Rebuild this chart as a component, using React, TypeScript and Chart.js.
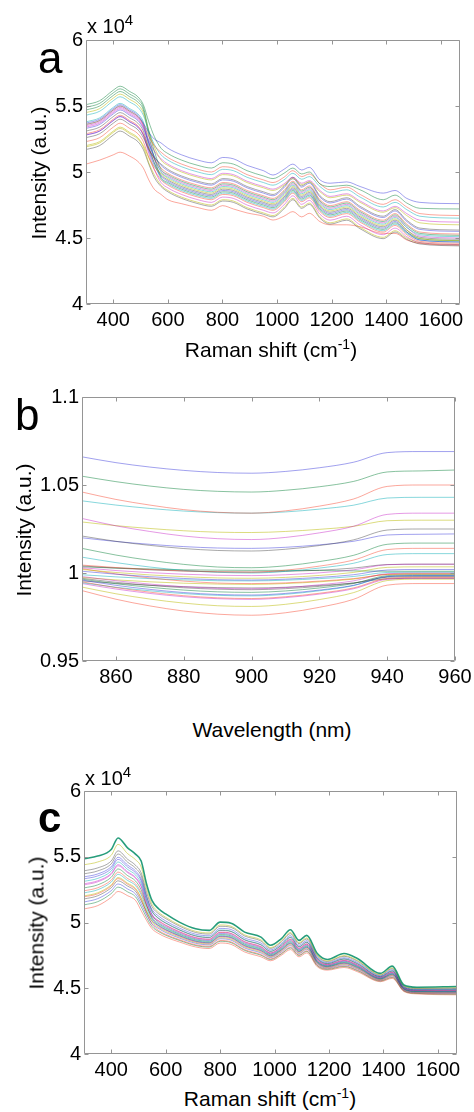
import React, { useEffect, useRef } from 'react';
import { Chart, registerables } from 'chart.js';

Chart.register(...registerables);

const FONT = "'Liberation Sans', Arial, Helvetica, sans-serif";

// ---------- Panels a & c : Raman spectra (intensity in units of 10^4) ----------
const RAMAN_SHIFT = [300, 350, 400, 425, 460, 490, 510, 530, 550, 575, 600, 650, 710, 760, 800, 840, 890, 950, 985, 1025, 1058, 1090, 1118, 1157, 1194, 1255, 1304, 1389, 1432, 1475, 1523, 1670];
const RAMAN_TICKS = [400, 600, 800, 1000, 1200, 1400, 1600];
const INTENSITY_TICKS = [4, 4.5, 5, 5.5, 6];

const A01 = [5.37, 5.40, 5.48, 5.51, 5.47, 5.43, 5.37, 5.30, 5.25, 5.22, 5.18, 5.13, 5.09, 5.07, 5.11, 5.10, 5.05, 5.01, 4.977, 5.02, 5.06, 5.015, 5.035, 4.94, 4.915, 4.925, 4.89, 4.84, 4.86, 4.80, 4.77, 4.76];
const A02 = [5.51, 5.54, 5.62, 5.65, 5.61, 5.57, 5.51, 5.38, 5.27, 5.18, 5.14, 5.09, 5.05, 5.03, 5.07, 5.06, 5.01, 4.97, 4.95, 4.99, 5.03, 4.985, 5.00, 4.91, 4.89, 4.90, 4.865, 4.79, 4.825, 4.765, 4.725, 4.72];
const A03 = [5.36, 5.39, 5.47, 5.50, 5.46, 5.42, 5.36, 5.27, 5.20, 5.15, 5.11, 5.06, 5.02, 5.00, 5.04, 5.03, 4.98, 4.94, 4.92, 4.96, 5.01, 4.965, 4.985, 4.91, 4.865, 4.885, 4.83, 4.755, 4.79, 4.735, 4.685, 4.67];
const A04 = [5.43, 5.46, 5.54, 5.57, 5.53, 5.49, 5.43, 5.31, 5.21, 5.13, 5.09, 5.04, 5.00, 4.98, 5.02, 5.01, 4.96, 4.92, 4.90, 4.94, 4.99, 4.945, 4.965, 4.89, 4.845, 4.865, 4.81, 4.735, 4.77, 4.715, 4.665, 4.65];
const A05 = [5.34, 5.37, 5.45, 5.48, 5.44, 5.40, 5.34, 5.24, 5.16, 5.10, 5.06, 5.01, 4.97, 4.95, 4.99, 4.98, 4.93, 4.89, 4.87, 4.91, 4.96, 4.915, 4.935, 4.86, 4.815, 4.835, 4.78, 4.705, 4.74, 4.685, 4.635, 4.62];
const A06 = [5.45, 5.48, 5.56, 5.59, 5.55, 5.51, 5.45, 5.31, 5.19, 5.09, 5.05, 5.00, 4.96, 4.94, 4.98, 4.97, 4.92, 4.88, 4.86, 4.90, 4.95, 4.905, 4.925, 4.85, 4.805, 4.825, 4.77, 4.695, 4.73, 4.67, 4.615, 4.60];
const A07 = [5.26, 5.29, 5.37, 5.40, 5.36, 5.32, 5.26, 5.17, 5.11, 5.06, 5.02, 4.97, 4.93, 4.91, 4.95, 4.94, 4.89, 4.85, 4.83, 4.89, 4.96, 4.895, 4.925, 4.82, 4.775, 4.805, 4.74, 4.665, 4.715, 4.635, 4.575, 4.56];
const A08 = [5.33, 5.36, 5.44, 5.47, 5.43, 5.39, 5.33, 5.22, 5.12, 5.05, 5.01, 4.96, 4.92, 4.90, 4.94, 4.93, 4.88, 4.84, 4.82, 4.88, 4.95, 4.885, 4.915, 4.81, 4.765, 4.795, 4.73, 4.655, 4.705, 4.625, 4.565, 4.55];
const A09 = [5.49, 5.52, 5.60, 5.63, 5.59, 5.55, 5.49, 5.31, 5.16, 5.02, 4.98, 4.93, 4.89, 4.87, 4.91, 4.90, 4.85, 4.81, 4.79, 4.85, 4.92, 4.855, 4.885, 4.78, 4.735, 4.765, 4.70, 4.625, 4.675, 4.595, 4.535, 4.52];
const A10 = [5.29, 5.32, 5.40, 5.43, 5.39, 5.35, 5.29, 5.18, 5.10, 5.03, 4.99, 4.94, 4.90, 4.88, 4.92, 4.91, 4.86, 4.82, 4.80, 4.86, 4.93, 4.865, 4.895, 4.79, 4.745, 4.775, 4.71, 4.635, 4.685, 4.605, 4.545, 4.53];
const A11 = [5.38, 5.41, 5.49, 5.52, 5.48, 5.44, 5.38, 5.23, 5.11, 5.00, 4.96, 4.91, 4.87, 4.85, 4.89, 4.88, 4.83, 4.79, 4.77, 4.83, 4.90, 4.835, 4.865, 4.76, 4.715, 4.745, 4.68, 4.605, 4.655, 4.58, 4.525, 4.51];
const A12 = [5.35, 5.38, 5.46, 5.49, 5.45, 5.41, 5.35, 5.22, 5.10, 5.01, 4.97, 4.92, 4.88, 4.86, 4.90, 4.89, 4.84, 4.80, 4.78, 4.84, 4.91, 4.845, 4.875, 4.77, 4.725, 4.755, 4.69, 4.615, 4.665, 4.58, 4.515, 4.50];
const A13 = [5.20, 5.23, 5.31, 5.34, 5.30, 5.26, 5.20, 5.11, 5.04, 4.99, 4.95, 4.90, 4.86, 4.84, 4.88, 4.87, 4.82, 4.78, 4.76, 4.82, 4.89, 4.825, 4.855, 4.75, 4.705, 4.735, 4.67, 4.595, 4.645, 4.56, 4.495, 4.48];
const A14 = [5.31, 5.34, 5.42, 5.45, 5.41, 5.37, 5.31, 5.18, 5.07, 4.98, 4.94, 4.89, 4.85, 4.83, 4.87, 4.86, 4.81, 4.77, 4.75, 4.81, 4.88, 4.815, 4.845, 4.74, 4.695, 4.725, 4.66, 4.585, 4.635, 4.56, 4.505, 4.49];
const A15 = [5.28, 5.31, 5.39, 5.42, 5.38, 5.34, 5.28, 5.16, 5.05, 4.97, 4.93, 4.88, 4.84, 4.82, 4.86, 4.85, 4.80, 4.76, 4.74, 4.80, 4.87, 4.805, 4.835, 4.73, 4.685, 4.715, 4.65, 4.575, 4.625, 4.545, 4.485, 4.47];
const A16 = [5.47, 5.50, 5.58, 5.61, 5.57, 5.53, 5.47, 5.28, 5.11, 4.96, 4.92, 4.87, 4.83, 4.81, 4.85, 4.84, 4.79, 4.75, 4.73, 4.79, 4.86, 4.795, 4.825, 4.72, 4.675, 4.705, 4.64, 4.565, 4.615, 4.545, 4.495, 4.48];
const A17 = [5.23, 5.26, 5.34, 5.37, 5.33, 5.29, 5.23, 5.11, 5.02, 4.94, 4.90, 4.85, 4.81, 4.79, 4.83, 4.82, 4.77, 4.73, 4.71, 4.77, 4.84, 4.775, 4.805, 4.70, 4.655, 4.685, 4.62, 4.545, 4.595, 4.525, 4.475, 4.46];
const A18 = [5.36, 5.39, 5.47, 5.50, 5.46, 5.42, 5.36, 5.20, 5.07, 4.95, 4.91, 4.86, 4.82, 4.80, 4.84, 4.83, 4.78, 4.74, 4.72, 4.78, 4.85, 4.785, 4.815, 4.71, 4.665, 4.695, 4.63, 4.555, 4.605, 4.535, 4.485, 4.47];
const A19 = [5.28, 5.31, 5.39, 5.42, 5.38, 5.34, 5.28, 5.14, 5.02, 4.92, 4.88, 4.83, 4.79, 4.77, 4.81, 4.80, 4.75, 4.71, 4.69, 4.75, 4.82, 4.755, 4.785, 4.68, 4.635, 4.665, 4.60, 4.525, 4.575, 4.51, 4.465, 4.45];
const A20 = [5.19, 5.22, 5.30, 5.33, 5.29, 5.25, 5.19, 5.07, 4.98, 4.90, 4.86, 4.81, 4.77, 4.75, 4.79, 4.78, 4.73, 4.69, 4.67, 4.73, 4.80, 4.735, 4.765, 4.66, 4.615, 4.645, 4.58, 4.505, 4.555, 4.50, 4.465, 4.45];
const A21 = [5.17, 5.20, 5.28, 5.31, 5.27, 5.23, 5.17, 5.06, 4.96, 4.89, 4.85, 4.80, 4.76, 4.74, 4.78, 4.77, 4.72, 4.68, 4.66, 4.72, 4.79, 4.725, 4.755, 4.65, 4.605, 4.635, 4.57, 4.495, 4.545, 4.49, 4.455, 4.44];
const A22 = [5.06, 5.09, 5.13, 5.15, 5.12, 5.08, 5.03, 4.94, 4.87, 4.83, 4.79, 4.76, 4.73, 4.71, 4.745, 4.72, 4.69, 4.665, 4.636, 4.665, 4.70, 4.66, 4.687, 4.624, 4.60, 4.60, 4.585, 4.535, 4.535, 4.485, 4.46, 4.445];
const A_SERIES = [A01, A02, A03, A04, A05, A06, A07, A08, A09, A10, A11, A12, A13, A14, A15, A16, A17, A18, A19, A20, A21, A22];
const A_COLORS = ['b', 'g', 'r', 'c', 'm', 'y', 'k', 'b', 'g', 'r', 'c', 'm', 'y', 'k', 'b', 'g', 'r', 'c', 'm', 'y', 'k', 'r'];

const C01 = [5.485, 5.505, 5.555, 5.643, 5.568, 5.518, 5.467, 5.291, 5.166, 5.103, 5.065, 5.003, 4.952, 4.940, 5.003, 4.995, 4.927, 4.889, 4.827, 4.877, 4.945, 4.864, 4.902, 4.764, 4.719, 4.764, 4.726, 4.613, 4.668, 4.525, 4.508, 4.513];
const C02 = [5.439, 5.460, 5.511, 5.594, 5.524, 5.476, 5.422, 5.256, 5.138, 5.077, 5.040, 4.982, 4.933, 4.921, 4.981, 4.972, 4.906, 4.868, 4.810, 4.859, 4.924, 4.847, 4.883, 4.750, 4.708, 4.749, 4.712, 4.604, 4.655, 4.518, 4.501, 4.504];
const C03 = [5.393, 5.415, 5.468, 5.545, 5.481, 5.434, 5.377, 5.228, 5.120, 5.065, 5.030, 4.973, 4.924, 4.912, 4.971, 4.963, 4.897, 4.859, 4.803, 4.852, 4.915, 4.839, 4.875, 4.744, 4.703, 4.743, 4.706, 4.600, 4.649, 4.515, 4.498, 4.500];
const C04 = [5.347, 5.369, 5.424, 5.496, 5.437, 5.391, 5.331, 5.197, 5.098, 5.047, 5.012, 4.958, 4.911, 4.899, 4.955, 4.947, 4.882, 4.844, 4.792, 4.839, 4.900, 4.827, 4.862, 4.734, 4.695, 4.732, 4.696, 4.594, 4.640, 4.510, 4.493, 4.494];
const C05 = [5.370, 5.392, 5.446, 5.521, 5.459, 5.412, 5.354, 5.199, 5.087, 5.028, 4.995, 4.943, 4.897, 4.885, 4.939, 4.931, 4.867, 4.829, 4.780, 4.827, 4.885, 4.814, 4.849, 4.724, 4.687, 4.722, 4.686, 4.588, 4.631, 4.505, 4.488, 4.488];
const C06 = [5.313, 5.335, 5.391, 5.460, 5.404, 5.360, 5.297, 5.173, 5.080, 5.032, 4.998, 4.946, 4.900, 4.888, 4.943, 4.934, 4.870, 4.832, 4.782, 4.829, 4.888, 4.817, 4.851, 4.726, 4.688, 4.724, 4.688, 4.589, 4.633, 4.506, 4.489, 4.489];
const C07 = [5.286, 5.309, 5.366, 5.431, 5.379, 5.335, 5.271, 5.151, 5.060, 5.013, 4.981, 4.931, 4.886, 4.874, 4.927, 4.918, 4.855, 4.817, 4.770, 4.817, 4.873, 4.804, 4.838, 4.716, 4.680, 4.713, 4.678, 4.583, 4.623, 4.501, 4.484, 4.483];
const C08 = [5.332, 5.354, 5.409, 5.480, 5.422, 5.377, 5.316, 5.167, 5.059, 5.000, 4.968, 4.920, 4.876, 4.864, 4.916, 4.906, 4.844, 4.807, 4.762, 4.808, 4.862, 4.795, 4.829, 4.708, 4.674, 4.706, 4.671, 4.578, 4.617, 4.498, 4.480, 4.478];
const C09 = [5.263, 5.286, 5.344, 5.407, 5.357, 5.314, 5.248, 5.129, 5.039, 4.990, 4.959, 4.912, 4.869, 4.857, 4.908, 4.898, 4.836, 4.799, 4.756, 4.801, 4.854, 4.789, 4.822, 4.703, 4.670, 4.700, 4.666, 4.575, 4.612, 4.495, 4.477, 4.475];
const C10 = [5.241, 5.264, 5.322, 5.383, 5.335, 5.293, 5.226, 5.127, 5.049, 5.009, 4.977, 4.928, 4.883, 4.871, 4.924, 4.915, 4.852, 4.814, 4.768, 4.814, 4.870, 4.802, 4.836, 4.714, 4.679, 4.711, 4.676, 4.582, 4.622, 4.500, 4.483, 4.482];
const C11 = [5.225, 5.249, 5.307, 5.366, 5.320, 5.279, 5.211, 5.106, 5.025, 4.981, 4.951, 4.905, 4.862, 4.850, 4.900, 4.890, 4.829, 4.792, 4.750, 4.795, 4.847, 4.783, 4.816, 4.698, 4.666, 4.695, 4.661, 4.572, 4.608, 4.493, 4.475, 4.472];
const C12 = [5.294, 5.317, 5.373, 5.440, 5.386, 5.342, 5.279, 5.135, 5.031, 4.971, 4.942, 4.897, 4.855, 4.843, 4.892, 4.882, 4.821, 4.784, 4.744, 4.789, 4.839, 4.777, 4.809, 4.693, 4.662, 4.690, 4.656, 4.569, 4.603, 4.490, 4.472, 4.469];
const C13 = [5.202, 5.226, 5.286, 5.342, 5.299, 5.258, 5.188, 5.086, 5.006, 4.962, 4.933, 4.890, 4.849, 4.837, 4.884, 4.874, 4.814, 4.777, 4.739, 4.783, 4.832, 4.770, 4.802, 4.688, 4.658, 4.685, 4.651, 4.566, 4.598, 4.488, 4.470, 4.466];
const C14 = [5.179, 5.203, 5.264, 5.317, 5.277, 5.236, 5.165, 5.081, 5.012, 4.975, 4.945, 4.900, 4.858, 4.846, 4.895, 4.886, 4.824, 4.787, 4.747, 4.791, 4.842, 4.779, 4.812, 4.695, 4.664, 4.692, 4.658, 4.570, 4.605, 4.491, 4.473, 4.470];
const C15 = [5.156, 5.181, 5.242, 5.293, 5.255, 5.215, 5.143, 5.059, 4.991, 4.953, 4.924, 4.882, 4.842, 4.830, 4.876, 4.866, 4.806, 4.769, 4.733, 4.776, 4.824, 4.764, 4.796, 4.683, 4.654, 4.679, 4.646, 4.563, 4.594, 4.485, 4.467, 4.463];
const C16 = [5.195, 5.218, 5.278, 5.334, 5.291, 5.250, 5.180, 5.070, 4.986, 4.938, 4.910, 4.870, 4.831, 4.819, 4.863, 4.853, 4.794, 4.757, 4.723, 4.766, 4.812, 4.754, 4.785, 4.675, 4.648, 4.671, 4.638, 4.558, 4.586, 4.481, 4.463, 4.458];
const C17 = [5.134, 5.158, 5.220, 5.269, 5.233, 5.194, 5.120, 5.037, 4.969, 4.930, 4.903, 4.864, 4.825, 4.813, 4.857, 4.847, 4.788, 4.751, 4.718, 4.761, 4.806, 4.749, 4.780, 4.671, 4.644, 4.666, 4.634, 4.555, 4.582, 4.479, 4.461, 4.455];
const C18 = [5.103, 5.128, 5.191, 5.236, 5.204, 5.166, 5.090, 5.015, 4.952, 4.915, 4.889, 4.852, 4.814, 4.802, 4.844, 4.834, 4.776, 4.739, 4.709, 4.751, 4.794, 4.739, 4.769, 4.663, 4.638, 4.658, 4.626, 4.550, 4.575, 4.475, 4.457, 4.450];
const C_SERIES = [C01, C02, C03, C04, C05, C06, C07, C08, C09, C10, C11, C12, C13, C14, C15, C16, C17, C18];
const C_COLORS = ['G', 'y', 'k', 'b', 'k', 'c', 'm', 'b', 'g', 'r', 'c', 'm', 'y', 'k', 'b', 'r', 'g', 'r'];

// ---------- Panel b : normalised NIR ratio ----------
const WAVELENGTH = [850, 860, 870, 880, 890, 900, 910, 920, 930, 940, 950, 960];
const WAVELENGTH_TICKS = [860, 880, 900, 920, 940, 960];
const RATIO_TICKS = [0.95, 1, 1.05, 1.1];

const B01 = [1.066, 1.0627, 1.0602, 1.0583, 1.0571, 1.0567, 1.0577, 1.0598, 1.0629, 1.0684, 1.069, 1.069];
const B02 = [1.055, 1.0519, 1.0494, 1.0475, 1.0464, 1.046, 1.047, 1.049, 1.052, 1.0574, 1.058, 1.0585];
const B03 = [1.046, 1.0418, 1.0386, 1.036, 1.0345, 1.034, 1.0353, 1.038, 1.042, 1.0492, 1.05, 1.05];
const B04 = [1.041, 1.0386, 1.0367, 1.0352, 1.0343, 1.034, 1.0347, 1.0363, 1.0385, 1.0426, 1.043, 1.043];
const B05 = [1.031, 1.0268, 1.0236, 1.021, 1.0195, 1.019, 1.0202, 1.0228, 1.0265, 1.0333, 1.034, 1.034];
const B06 = [1.029, 1.0269, 1.0253, 1.024, 1.0232, 1.023, 1.0236, 1.0248, 1.0265, 1.0297, 1.03, 1.03];
const B07 = [1.021, 1.018, 1.0157, 1.0139, 1.0128, 1.0125, 1.0135, 1.0156, 1.0188, 1.0244, 1.025, 1.025];
const B08 = [1.02, 1.0179, 1.0163, 1.015, 1.0142, 1.014, 1.0146, 1.016, 1.018, 1.0216, 1.022, 1.0222];
const B09 = [1.014, 1.0102, 1.0072, 1.0049, 1.0034, 1.003, 1.0041, 1.0065, 1.01, 1.0163, 1.017, 1.017];
const B10 = [1.0045, 1.0031, 1.002, 1.0012, 1.0007, 1.0005, 1.0016, 1.0039, 1.0073, 1.0133, 1.014, 1.014];
const B11 = [1.009, 1.0059, 1.0034, 1.0015, 1.0004, 1.0, 1.0009, 1.0028, 1.0055, 1.0105, 1.011, 1.011];
const B12 = [1.003, 1.0014, 1.0002, 0.9993, 0.9987, 0.9985, 0.999, 1.0001, 1.0018, 1.0047, 1.005, 1.005];
const B13 = [1.002, 1.0003, 0.9989, 0.9979, 0.9972, 0.997, 0.9975, 0.9986, 1.0003, 1.0032, 1.0035, 1.0035];
const B14 = [1.004, 1.0028, 1.0018, 1.0011, 1.0006, 1.0005, 1.0009, 1.0016, 1.0028, 1.0048, 1.005, 1.005];
const B15 = [1.001, 0.9993, 0.9979, 0.9969, 0.9962, 0.996, 0.9965, 0.9975, 0.999, 1.0017, 1.002, 1.002];
const B16 = [1.0035, 1.0028, 1.0023, 1.0018, 1.0016, 1.0015, 1.0015, 1.0014, 1.0012, 1.001, 1.001, 1.001];
const B17 = [1.0025, 0.9995, 0.9972, 0.9954, 0.9943, 0.994, 0.9944, 0.9954, 0.9968, 0.9992, 0.9995, 0.9995];
const B18 = [0.999, 0.9978, 0.9968, 0.9961, 0.9956, 0.9955, 0.9959, 0.9968, 0.998, 1.0003, 1.0005, 1.0005];
const B19 = [0.998, 0.9956, 0.9937, 0.9922, 0.9913, 0.991, 0.9917, 0.9933, 0.9955, 0.9996, 1.0, 1.0];
const B20 = [0.9975, 0.9961, 0.995, 0.9942, 0.9937, 0.9935, 0.994, 0.995, 0.9965, 0.9992, 0.9995, 0.9995];
const B21 = [0.997, 0.9947, 0.993, 0.9916, 0.9908, 0.9905, 0.9911, 0.9924, 0.9943, 0.9976, 0.998, 0.998];
const B22 = [0.996, 0.993, 0.9907, 0.9889, 0.9878, 0.9875, 0.9884, 0.9903, 0.993, 0.998, 0.9985, 0.9985];
const B23 = [0.9965, 0.9939, 0.9919, 0.9903, 0.9893, 0.989, 0.9898, 0.9915, 0.994, 0.9985, 0.999, 0.999];
const B24 = [0.995, 0.9917, 0.9891, 0.9871, 0.9859, 0.9855, 0.9865, 0.9885, 0.9915, 0.9969, 0.9975, 0.9975];
const B25 = [0.9945, 0.9919, 0.9899, 0.9883, 0.9873, 0.987, 0.9879, 0.9899, 0.9928, 0.9979, 0.9985, 0.9985];
const B26 = [0.994, 0.9909, 0.9884, 0.9865, 0.9854, 0.985, 0.986, 0.988, 0.991, 0.9964, 0.997, 0.997];
const B27 = [0.992, 0.9882, 0.9852, 0.9829, 0.9814, 0.981, 0.9822, 0.9849, 0.9888, 0.9957, 0.9965, 0.9965];
const B28 = [0.9955, 0.9941, 0.993, 0.9922, 0.9917, 0.9915, 0.9919, 0.9929, 0.9943, 0.9967, 0.997, 0.997];
const B29 = [0.99, 0.9851, 0.9813, 0.9784, 0.9766, 0.976, 0.9774, 0.9805, 0.985, 0.9931, 0.994, 0.994];
const B_SERIES = [B01, B02, B03, B04, B05, B06, B07, B08, B09, B10, B11, B12, B13, B14, B15, B16, B17, B18, B19, B20, B21, B22, B23, B24, B25, B26, B27, B28, B29];
const B_COLORS = ['b', 'g', 'r', 'c', 'm', 'y', 'k', 'b', 'g', 'r', 'c', 'm', 'y', 'k', 'b', 'g', 'r', 'c', 'm', 'y', 'k', 'b', 'g', 'r', 'c', 'm', 'y', 'k', 'r'];

// MATLAB default line colours; thin lines look pale in the reference
const PALETTE: Record<string, string> = {
  b: 'rgba(30,30,215,0.42)',
  g: 'rgba(0,125,50,0.47)',
  r: 'rgba(245,45,20,0.42)',
  c: 'rgba(0,170,180,0.47)',
  m: 'rgba(190,0,190,0.4)',
  y: 'rgba(185,185,0,0.5)',
  k: 'rgba(50,50,50,0.42)',
  G: 'rgba(0,140,100,0.85)',
};

const CANVAS_W = 500;

const boxPlugin = {
  id: 'matlabBox',
  afterDraw(chart: any) {
    const { ctx, chartArea } = chart;
    const l = Math.round(chartArea.left) + 0.5;
    const r = Math.round(chartArea.right) - 0.5;
    const t = Math.round(chartArea.top) + 0.5;
    const b = Math.round(chartArea.bottom) - 0.5;
    const xs = chart.scales.x;
    const ys = chart.scales.y;
    const len = 4;
    ctx.save();
    ctx.strokeStyle = '#959595';
    ctx.lineWidth = 1;
    ctx.beginPath();
    ctx.rect(l, t, r - l, b - t);
    xs.ticks.forEach((tk: any) => {
      const px = Math.round(xs.getPixelForValue(tk.value)) + 0.5;
      ctx.moveTo(px, b);
      ctx.lineTo(px, b - len);
      ctx.moveTo(px, t);
      ctx.lineTo(px, t + len);
    });
    ys.ticks.forEach((tk: any) => {
      const py = Math.round(ys.getPixelForValue(tk.value)) + 0.5;
      ctx.moveTo(l, py);
      ctx.lineTo(l + len, py);
      ctx.moveTo(r, py);
      ctx.lineTo(r - len, py);
    });
    ctx.stroke();
    ctx.restore();
  },
};

const fmt = (v: any) => String(Math.round(Number(v) * 100) / 100);

type Plot = { left: number; top: number; right: number; bottom: number };

function Panel(props: {
  top: number;
  height: number;
  plot: Plot;
  xs: number[];
  series: number[][];
  colors: string[];
  xMin: number;
  xMax: number;
  yMin: number;
  yMax: number;
  xTicks: number[];
  yTicks: number[];
}) {
  const ref = useRef<HTMLCanvasElement | null>(null);
  const { top, height, plot, xs, series, colors, xMin, xMax, yMin, yMax, xTicks, yTicks } = props;
  useEffect(() => {
    if (!ref.current) return;
    const tickFont = { family: FONT, size: 20 };
    const chart = new Chart(ref.current, {
      type: 'line',
      data: {
        datasets: series.map((ys, i) => ({
          data: xs.map((x, j) => ({ x, y: ys[j] })),
          borderColor: PALETTE[colors[i]],
          borderWidth: colors[i] === 'G' ? 1.6 : 1,
          pointRadius: 0,
          fill: false,
          cubicInterpolationMode: 'monotone' as const,
        })),
      },
      options: {
        animation: false,
        responsive: false,
        maintainAspectRatio: false,
        events: [],
        layout: { padding: { left: 0, top: plot.top - top, right: CANVAS_W - plot.right, bottom: 0 } },
        plugins: { legend: { display: false }, tooltip: { enabled: false } },
        scales: {
          x: {
            type: 'linear',
            min: xMin,
            max: xMax,
            grid: { display: false, drawTicks: false },
            border: { display: false },
            ticks: { padding: 4, font: tickFont, color: '#000', maxRotation: 0, autoSkip: false, callback: fmt },
            afterBuildTicks: (s: any) => {
              s.ticks = xTicks.map((v) => ({ value: v }));
            },
            afterFit: (s: any) => {
              s.height = top + height - plot.bottom;
            },
          },
          y: {
            type: 'linear',
            min: yMin,
            max: yMax,
            grid: { display: false, drawTicks: false },
            border: { display: false },
            ticks: { padding: 3, font: tickFont, color: '#000', autoSkip: false, callback: fmt },
            afterBuildTicks: (s: any) => {
              s.ticks = yTicks.map((v) => ({ value: v }));
            },
            afterFit: (s: any) => {
              s.width = plot.left;
            },
          },
        },
      } as any,
      plugins: [boxPlugin],
    });
    return () => chart.destroy();
  }, []);
  return (
    <canvas
      ref={ref}
      width={CANVAS_W}
      height={height}
      style={{ position: 'absolute', left: 0, top, width: CANVAS_W, height }}
    />
  );
}

// text placed by its baseline
function Txt(props: { x: number; base: number; size: number; bold?: boolean; center?: boolean; children: any }) {
  const { x, base, size, bold, center, children } = props;
  return (
    <div
      style={{
        position: 'absolute',
        left: x,
        top: base - 0.8465 * size,
        fontSize: size,
        lineHeight: 1,
        fontWeight: bold ? 'bold' : 'normal',
        whiteSpace: 'nowrap',
        transform: center ? 'translateX(-50%)' : undefined,
        color: '#000',
      }}
    >
      {children}
    </div>
  );
}

function YTitle(props: { cx: number; cy: number }) {
  return (
    <div
      style={{
        position: 'absolute',
        left: props.cx,
        top: props.cy,
        fontSize: 21,
        lineHeight: 1,
        whiteSpace: 'nowrap',
        transform: 'translate(-50%,-50%) rotate(-90deg)',
        color: '#000',
      }}
    >
      Intensity (a.u.)
    </div>
  );
}

const Sup = (props: { children: any; size: number; lift: number }) => (
  <span style={{ fontSize: props.size, position: 'relative', top: -props.lift }}>{props.children}</span>
);

export default function App() {
  const plotA = { left: 86, top: 40, right: 460, bottom: 304 };
  const plotB = { left: 82, top: 397, right: 455, bottom: 661 };
  const plotC = { left: 84, top: 791, right: 457, bottom: 1054 };
  return (
    <div
      style={{
        position: 'absolute',
        left: 0,
        top: 0,
        width: 474,
        height: 1112,
        overflow: 'hidden',
        background: '#fff',
        fontFamily: FONT,
      }}
    >
      <Panel top={0} height={345} plot={plotA} xs={RAMAN_SHIFT} series={A_SERIES} colors={A_COLORS}
        xMin={300} xMax={1670} yMin={4} yMax={6} xTicks={RAMAN_TICKS} yTicks={INTENSITY_TICKS} />
      <Panel top={360} height={330} plot={plotB} xs={WAVELENGTH} series={B_SERIES} colors={B_COLORS}
        xMin={850} xMax={960} yMin={0.95} yMax={1.1} xTicks={WAVELENGTH_TICKS} yTicks={RATIO_TICKS} />
      <Panel top={750} height={335} plot={plotC} xs={RAMAN_SHIFT} series={C_SERIES} colors={C_COLORS}
        xMin={300} xMax={1670} yMin={4} yMax={6} xTicks={RAMAN_TICKS} yTicks={INTENSITY_TICKS} />

      {/* panel a texts */}
      <Txt x={38} base={73} size={44}>a</Txt>
      <Txt x={87} base={33} size={20}>x 10<Sup size={15} lift={8}>4</Sup></Txt>
      <YTitle cx={37.7} cy={172.5} />
      <Txt x={271} base={357} size={21} center>Raman shift (cm<Sup size={14} lift={8}>-1</Sup>)</Txt>

      {/* panel b texts */}
      <Txt x={15} base={430} size={44}>b</Txt>
      <YTitle cx={22.7} cy={530} />
      <Txt x={272} base={736.5} size={21} center>Wavelength (nm)</Txt>

      {/* panel c texts */}
      <Txt x={38} base={833} size={42} bold>c</Txt>
      <Txt x={85} base={785} size={20}>x 10<Sup size={15} lift={8}>4</Sup></Txt>
      <YTitle cx={36} cy={923} />
      <Txt x={270} base={1106} size={21} center>Raman shift (cm<Sup size={14} lift={8}>-1</Sup>)</Txt>
    </div>
  );
}
